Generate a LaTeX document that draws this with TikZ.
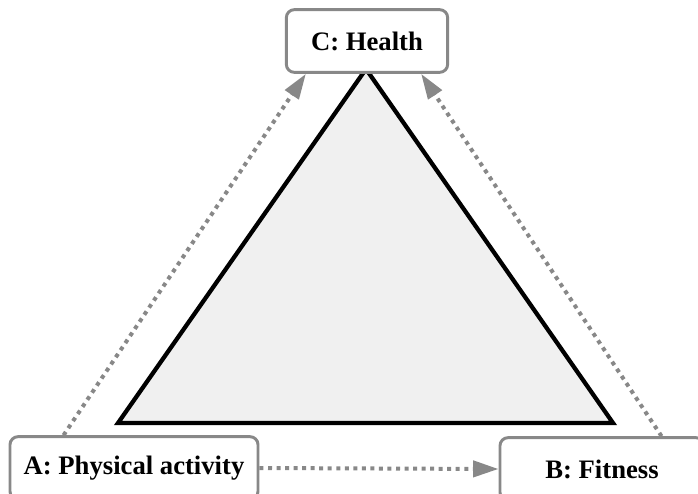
\documentclass[tikz,border=0pt]{standalone}
\usepackage{fontspec}
\setmainfont{Liberation Serif}
\usepackage{tikz}
\usetikzlibrary{arrows.meta,calc}

\definecolor{boxgray}{HTML}{888888}
\definecolor{trifill}{HTML}{F0F0F0}

\tikzset{
  factor/.style={draw=boxgray, line width=2.2pt, rounded corners=6pt, fill=white,
    font=\fontsize{20}{24}\selectfont\bfseries, inner sep=0pt, minimum height=47pt},
  link/.style={draw=boxgray, line width=3pt, dash pattern=on 3pt off 3.4pt,
    -{Triangle[length=19pt,width=12pt,fill=boxgray]}}
}

\begin{document}
\begin{tikzpicture}[x=0.75pt,y=-0.75pt]
        % Fija el marco
        \useasboundingbox (0,0) rectangle (698,493);

        % Dibuja el triangulo
        \draw[black, line width=3.2pt, fill=trifill, line join=miter] (366,69) -- (613,423) -- (118,423) -- cycle;

        % Coloca las cajas
        \node[factor, minimum width=121pt] (health) at (367,41) {C: Health};
        \node[factor, minimum width=186pt] (activity) at (134,468) {A: Physical activity};
        \node[factor, minimum width=153pt] (fitness) at (602,469) {B: Fitness};

        % Dibuja las flechas punteadas
        \draw[link] ($(activity.north west)+(55,0)$) -- ($(health.south west)+(21,0)$);
        \draw[link] ($(fitness.north west)+(163,0)$) -- ($(health.south east)+(-28,0)$);
        \draw[link] (activity.east) -- (fitness.west);
    \end{tikzpicture}
\end{document}
